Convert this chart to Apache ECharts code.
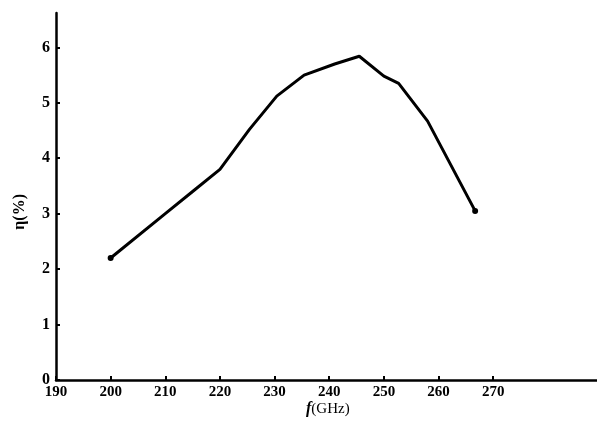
<!DOCTYPE html>
<html>
<head>
<meta charset="utf-8">
<script src="https://cdn.jsdelivr.net/npm/echarts@6/dist/echarts.min.js"></script>
<style>
html,body{margin:0;padding:0;background:#fff;}
#chart{width:597px;height:426px;}
</style>
</head>
<body>
<div id="chart"></div>
<script>
// Data
var freqGHz = [200, 210, 215, 220, 225.4, 230.4, 235.4, 241, 245.5, 250, 252.7, 258, 266.7];
var efficiency = [2.2, 3.0, 3.4, 3.8, 4.52, 5.12, 5.5, 5.7, 5.84, 5.48, 5.35, 4.67, 3.05];
var xTicks = [190, 200, 210, 220, 230, 240, 250, 260, 270];
var yTicks = [0, 1, 2, 3, 4, 5, 6];

var seriesData = freqGHz.map(function (f, i) {
  var item = { value: [f, efficiency[i]] };
  if (i === 0 || i === freqGHz.length - 1) {
    item.symbol = 'circle';
    item.symbolSize = 6;
  } else {
    item.symbol = 'none';
  }
  return item;
});

var fontFam = '"Liberation Serif", "DejaVu Serif", serif';
var chart = echarts.init(document.getElementById('chart'), null, { renderer: 'canvas' });
chart.setOption({
  backgroundColor: '#fff',
  animation: false,
  grid: { left: 56, right: 0, top: 13, bottom: 46 },
  xAxis: {
    type: 'value',
    min: 190,
    max: 289,
    splitLine: { show: false },
    axisLine: { show: true, onZero: false, lineStyle: { color: '#000', width: 2.5 } },
    axisTick: { show: true, inside: true, length: 4, customValues: xTicks, lineStyle: { color: '#000', width: 2 } },
    axisLabel: { customValues: xTicks, color: '#000', fontFamily: fontFam, fontWeight: 'bold', fontSize: 15, margin: 5 }
  },
  yAxis: {
    type: 'value',
    min: 0,
    max: 6.62,
    splitLine: { show: false },
    axisLine: { show: true, lineStyle: { color: '#000', width: 2.5 } },
    axisTick: { show: true, inside: true, length: 4, customValues: yTicks, lineStyle: { color: '#000', width: 2 } },
    axisLabel: { customValues: yTicks, color: '#000', fontFamily: fontFam, fontWeight: 'bold', fontSize: 16, margin: 6 }
  },
  graphic: [
    {
      type: 'text',
      left: 12,
      top: 194,
      rotation: Math.PI / 2,
      originX: 0, originY: 0,
      style: {
        text: 'η(%)',
        fill: '#000',
        font: 'bold 16px ' + fontFam
      }
    },
    {
      type: 'text',
      left: 306,
      top: 401,
      style: {
        text: '{i|f}{n|(GHz)}',
        rich: {
          i: { fontStyle: 'italic', fontSize: 16, fontFamily: fontFam, fill: '#000', fontWeight: 'bold' },
          n: { fontSize: 15, fontFamily: fontFam, fill: '#000' }
        }
      }
    }
  ],
  series: [{
    type: 'line',
    data: seriesData,
    lineStyle: { color: '#000', width: 3 },
    itemStyle: { color: '#000' },
    showSymbol: true
  }]
});
</script>
</body>
</html>
